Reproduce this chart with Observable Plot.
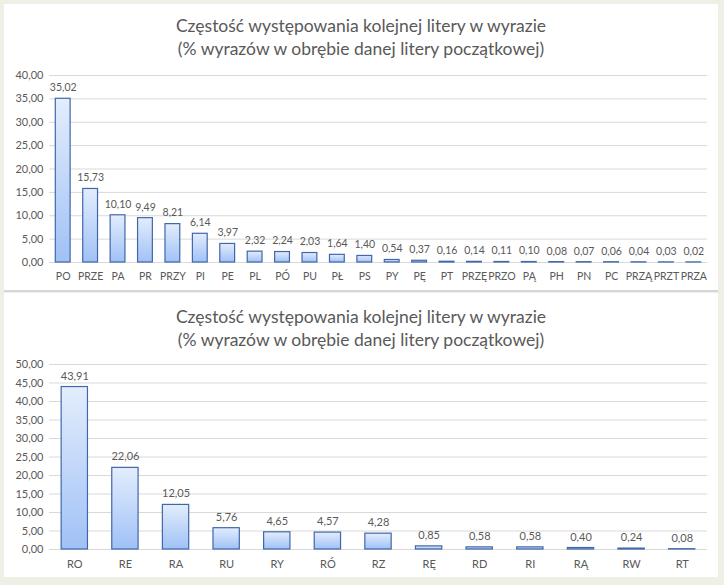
<!DOCTYPE html>
<html>
<head>
<meta charset="utf-8">
<script src="https://cdn.jsdelivr.net/npm/d3@7"></script>
<script src="https://cdn.jsdelivr.net/npm/@observablehq/plot@0.6"></script>
<style>
  html, body { margin: 0; padding: 0; }
  body { width: 724px; height: 585px; background: #eef0e5; position: relative; overflow: hidden; font-family: Lato, "Open Sans", sans-serif; }
  .panel { position: absolute; left: 4px; width: 714px; background: #fff; }
  #p1 { top: 4px; height: 286px; border-bottom: 2px solid #d6d6d6; }
  #p2 { top: 293px; height: 284px; }
  .title { position: absolute; left: 0; width: 714px; text-align: center; color: #595959; font-size: 17.5px; line-height: 23px; }
  .panel svg { position: absolute; left: 0; }
</style>
</head>
<body>
<div class="panel" id="p1"><div class="title" style="top:10px">Częstość występowania kolejnej litery w wyrazie<br>(% wyrazów w obrębie danej litery początkowej)</div></div>
<div class="panel" id="p2"><div class="title" style="top:12px">Częstość występowania kolejnej litery w wyrazie<br>(% wyrazów w obrębie danej litery początkowej)</div></div>
<script>
const catsP = ["PO","PRZE","PA","PR","PRZY","PI","PE","PL","PÓ","PU","PŁ","PS","PY","PĘ","PT","PRZĘ","PRZO","PĄ","PH","PN","PC","PRZĄ","PRZT","PRZA"];
const valsP = [35.02,15.73,10.10,9.49,8.21,6.14,3.97,2.32,2.24,2.03,1.64,1.40,0.54,0.37,0.16,0.14,0.11,0.10,0.08,0.07,0.06,0.04,0.03,0.02];
const catsR = ["RO","RE","RA","RU","RY","RÓ","RZ","RĘ","RD","RI","RĄ","RW","RT"];
const valsR = [43.91,22.06,12.05,5.76,4.65,4.57,4.28,0.85,0.58,0.58,0.40,0.24,0.08];
const ticksP = [0,5,10,15,20,25,30,35,40];
const ticksR = [0,5,10,15,20,25,30,35,40,45,50];

const fmt = v => v.toFixed(2).replace(".", ",");

function gradDefs(id) {
  return () => {
    const ns = "http://www.w3.org/2000/svg";
    const defs = document.createElementNS(ns, "defs");
    const g = document.createElementNS(ns, "linearGradient");
    g.setAttribute("id", id);
    g.setAttribute("x1", "0"); g.setAttribute("y1", "0");
    g.setAttribute("x2", "0"); g.setAttribute("y2", "1");
    [["0%", "#e3edfd"], ["100%", "#a0c1f6"]].forEach(([o, c]) => {
      const s = document.createElementNS(ns, "stop");
      s.setAttribute("offset", o); s.setAttribute("stop-color", c);
      g.appendChild(s);
    });
    defs.appendChild(g);
    return defs;
  };
}

function chart(cats, vals, ticks, opts) {
  const data = cats.map((c, i) => ({cat: c, v: vals[i]}));
  return Plot.plot({
    width: 714,
    height: opts.height,
    marginTop: opts.mt,
    marginBottom: opts.mb,
    marginLeft: 45,
    marginRight: 11,
    style: {fontFamily: "Lato, 'Open Sans', sans-serif", fontSize: "11px", color: "#595959", background: "transparent"},
    x: {domain: cats, paddingInner: opts.pad, paddingOuter: opts.pad / 2, round: false, label: null, tickSize: 0},
    y: {domain: [0, ticks[ticks.length - 1]], ticks: ticks, tickFormat: fmt, label: null, tickSize: 0},
    marks: [
      gradDefs(opts.gid),
      Plot.ruleY(ticks, {stroke: "#d9d9d9", strokeOpacity: 1}),
      Plot.barY(data, {x: "cat", y: "v", fill: `url(#${opts.gid})`, stroke: "#4067ab", strokeWidth: 1.2}),
      Plot.text(data, {x: "cat", y: "v", text: d => fmt(d.v), dy: -11, fill: "#595959", fontSize: opts.fs}),
      Plot.axisX({tickSize: 0, tickPadding: opts.tp, fontSize: opts.fs, fill: "#595959"}),
      Plot.axisY({ticks: ticks, tickFormat: fmt, tickSize: 0, tickPadding: 6, fontSize: 11, fill: "#595959"})
    ]
  });
}

const c1 = chart(catsP, valsP, ticksP, {height: 230, mt: 15, mb: 28, pad: 0.46, gid: "g1", fs: 10.5, tp: 10});
c1.style.top = "56px";
document.getElementById("p1").appendChild(c1);

const c2 = chart(catsR, valsR, ticksR, {height: 227, mt: 14, mb: 28, pad: 0.48, gid: "g2", fs: 11, tp: 11});
c2.style.top = "57px";
document.getElementById("p2").appendChild(c2);
</script>
</body>
</html>
